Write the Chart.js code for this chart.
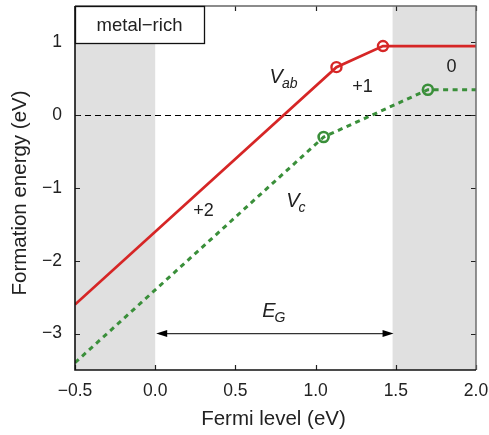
<!DOCTYPE html>
<html>
<head>
<meta charset="utf-8">
<script src="https://cdn.jsdelivr.net/npm/chart.js@4.4.1/dist/chart.umd.min.js"></script>
<style>
  html,body{margin:0;padding:0;background:#fff;}
  #wrap{width:489px;height:435px;}
</style>
</head>
<body>
<div id="wrap"><canvas id="defChart" width="489" height="435"></canvas></div>
<script>
// Formation energy vs Fermi level, metal-rich limit
const xTicks = [-0.5, 0.0, 0.5, 1.0, 1.5, 2.0];
const yTicks = [-3, -2, -1, 0, 1];
const gapEdge = 1.48;            // band gap E_G (eV)

const vabX = [-0.5, 1.13, 1.42, 2.0];
const vabY = [-2.6, 0.66, 0.95, 0.95];
const vabMarks = [0, 1, 1, 0];   // transition levels get a circle

const vcX = [-0.5, 1.05, 1.70, 2.0];
const vcY = [-3.4, -0.30, 0.35, 0.35];
const vcMarks = [0, 1, 1, 0];

const RED = "#d62626", GREEN = "#3a8f3a", FONT = "'Liberation Sans', Arial, sans-serif";
const minus = s => String(s).replace("-", "\u2212");
const pts = (xs, ys) => xs.map((x, i) => ({x, y: ys[i]}));
const noPad = s => { s.paddingTop = s.paddingBottom = s.paddingLeft = s.paddingRight = 0; };

// gray bands + zero line under the data
const underlay = {
  id: "underlay",
  beforeDatasetsDraw(chart){
    const {ctx, chartArea: a, scales: {x, y}} = chart;
    ctx.save();
    ctx.fillStyle = "#e0e0e0";
    ctx.fillRect(a.left, a.top, x.getPixelForValue(0) - a.left, a.bottom - a.top);
    const gx = x.getPixelForValue(gapEdge);
    ctx.fillRect(gx, a.top, a.right - gx, a.bottom - a.top);
    ctx.strokeStyle = "#000"; ctx.lineWidth = 1.1; ctx.setLineDash([6, 4]);
    const y0 = Math.round(y.getPixelForValue(0)) + 0.5;
    ctx.beginPath(); ctx.moveTo(a.left, y0); ctx.lineTo(a.right, y0); ctx.stroke();
    ctx.restore();
  }
};

function subText(ctx, main, sub, px, py, size){
  ctx.font = `italic ${size}px ${FONT}`;
  ctx.textAlign = "left"; ctx.textBaseline = "alphabetic";
  ctx.fillText(main, px, py);
  const w = ctx.measureText(main).width;
  ctx.font = `italic ${Math.round(size * 0.72)}px ${FONT}`;
  ctx.fillText(sub, px + w - 1, py + 5);
}

function arrowHead(ctx, tx, ty, dir){
  ctx.beginPath();
  ctx.moveTo(tx, ty);
  ctx.lineTo(tx - dir * 11, ty - 3.5);
  ctx.lineTo(tx - dir * 11, ty + 3.5);
  ctx.closePath(); ctx.fill();
}

// frame, inward ticks, labels, arrow, axis titles
const overlay = {
  id: "overlay",
  afterDatasetsDraw(chart){
    const {ctx, chartArea: a, scales: {x, y}} = chart;
    ctx.save();
    // ticks
    ctx.strokeStyle = "#222"; ctx.lineWidth = 1.2;
    ctx.beginPath();
    xTicks.forEach(v => {
      const px = Math.round(x.getPixelForValue(v)) + 0.5;
      ctx.moveTo(px, a.bottom); ctx.lineTo(px, a.bottom - 5);
      ctx.moveTo(px, a.top); ctx.lineTo(px, a.top + 5);
    });
    yTicks.forEach(v => {
      const py = Math.round(y.getPixelForValue(v)) + 0.5;
      ctx.moveTo(a.left, py); ctx.lineTo(a.left + 5, py);
      ctx.moveTo(a.right, py); ctx.lineTo(a.right - 5, py);
    });
    ctx.stroke();
    // frame
    ctx.strokeStyle = "#666"; ctx.lineWidth = 1.4;
    ctx.beginPath(); ctx.moveTo(a.left, a.top); ctx.lineTo(a.right, a.top); ctx.lineTo(a.right, a.bottom); ctx.stroke();
    ctx.strokeStyle = "#111"; ctx.lineWidth = 1.6;
    ctx.beginPath(); ctx.moveTo(a.left, a.top); ctx.lineTo(a.left, a.bottom); ctx.lineTo(a.right, a.bottom); ctx.stroke();

    // E_G arrow
    const ay = y.getPixelForValue(-3), ax0 = x.getPixelForValue(0), ax1 = x.getPixelForValue(gapEdge);
    ctx.strokeStyle = "#333"; ctx.fillStyle = "#000"; ctx.lineWidth = 1.1;
    ctx.beginPath(); ctx.moveTo(ax0 + 4, ay); ctx.lineTo(ax1 - 4, ay); ctx.stroke();
    arrowHead(ctx, ax0 + 1, ay, -1);
    arrowHead(ctx, ax1 + 1, ay, 1);

    // labels
    ctx.fillStyle = "#222";
    subText(ctx, "V", "ab", x.getPixelForValue(0.713), y.getPixelForValue(0.44), 20);
    subText(ctx, "V", "c", x.getPixelForValue(0.817), y.getPixelForValue(-1.26), 20);
    subText(ctx, "E", "G", x.getPixelForValue(0.667), y.getPixelForValue(-2.77), 20);
    ctx.font = `18px ${FONT}`; ctx.textAlign = "center"; ctx.textBaseline = "alphabetic";
    ctx.fillText("+1", x.getPixelForValue(1.293), y.getPixelForValue(0.32));
    ctx.fillText("0", x.getPixelForValue(1.848), y.getPixelForValue(0.59));
    ctx.fillText("+2", x.getPixelForValue(0.301), y.getPixelForValue(-1.387));

    // condition box
    ctx.fillStyle = "#fff"; ctx.strokeStyle = "#111"; ctx.lineWidth = 1.3;
    ctx.fillRect(a.left, a.top, 129, 37);
    ctx.strokeRect(a.left + 0.5, a.top + 0.5, 129, 37);
    ctx.fillStyle = "#222"; ctx.font = `18.5px ${FONT}`; ctx.textBaseline = "middle";
    ctx.fillText("metal\u2212rich", a.left + 64.5, a.top + 20);

    // axis titles
    ctx.font = `20.5px ${FONT}`; ctx.textBaseline = "alphabetic";
    ctx.fillText("Fermi level (eV)", (a.left + a.right) / 2 - 2, 425);
    ctx.translate(26, 193); ctx.rotate(-Math.PI / 2);
    ctx.fillText("Formation energy (eV)", 0, 0);
    ctx.restore();
  }
};

new Chart(document.getElementById("defChart"), {
  type: "scatter",
  data: {
    datasets: [
      {label: "Vab", data: pts(vabX, vabY), showLine: true, borderColor: RED, borderWidth: 2.7,
       pointRadius: vabMarks.map(m => m ? 5 : 0), pointBorderWidth: 2.4,
       pointBorderColor: RED, pointBackgroundColor: "rgba(0,0,0,0)"},
      {label: "Vc", data: pts(vcX, vcY), showLine: true, borderColor: GREEN, borderWidth: 3,
       borderDash: [5, 4.5], pointRadius: vcMarks.map(m => m ? 5 : 0), pointBorderWidth: 2.6,
       pointBorderColor: GREEN, pointBackgroundColor: "rgba(0,0,0,0)"}
    ]
  },
  options: {
    responsive: false, animation: false,
    layout: {padding: {top: 6, right: 13, left: 0, bottom: 0}},
    plugins: {legend: {display: false}, tooltip: {enabled: false}},
    scales: {
      x: {
        type: "linear", min: -0.5, max: 2.0,
        grid: {display: false, drawTicks: false}, border: {display: false},
        afterFit: s => { s.height = 65; noPad(s); },
        afterBuildTicks: s => { s.ticks = xTicks.map(v => ({value: v})); },
        ticks: {padding: 11, color: "#222", font: {family: FONT, size: 17.5},
                callback: v => minus(Number(v).toFixed(1))}
      },
      y: {
        type: "linear", min: -3.5, max: 1.5,
        grid: {display: false, drawTicks: false}, border: {display: false},
        afterFit: s => { s.width = 75; noPad(s); },
        afterBuildTicks: s => { s.ticks = yTicks.map(v => ({value: v})); },
        ticks: {padding: 13, color: "#222", font: {family: FONT, size: 17.5},
                callback: v => minus(v)}
      }
    }
  },
  plugins: [underlay, overlay]
});
</script>
</body>
</html>
